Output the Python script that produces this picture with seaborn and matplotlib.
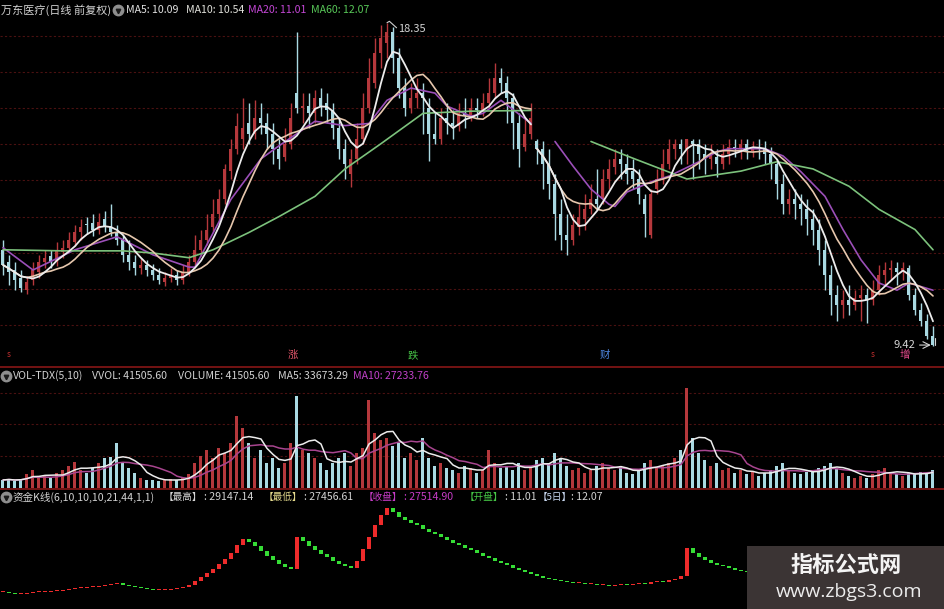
import numpy as np
import pandas as pd
import matplotlib
matplotlib.use("Agg")
import matplotlib.pyplot as plt
import seaborn as sns
from matplotlib.patches import Rectangle
from matplotlib.lines import Line2D

# ---------------- data ----------------
seg_start = 89  # first bar of the second chart section

open_p = [12.08, 11.74, 11.52, 11.30, 10.96, 11.24, 11.46, 11.74, 11.91, 11.74,
          12.02, 12.14, 12.30, 12.58, 12.78, 12.81, 12.64, 12.92, 12.75, 12.58,
          12.36, 11.94, 11.74, 11.58, 11.66, 11.52, 11.38, 11.18, 11.30, 11.38,
          11.24, 11.46, 11.74, 12.08, 12.36, 12.70, 13.06, 13.48, 14.26, 14.88,
          15.16, 15.58, 15.30, 15.72, 15.58, 15.30, 14.88, 14.66, 15.02, 16.42,
          16.00, 16.06, 15.86, 16.28, 16.14, 15.94, 15.44, 14.88, 14.18, 14.60,
          15.16, 16.00, 16.70, 17.54, 17.82, 18.10, 17.40, 16.56, 16.00, 16.28,
          16.42, 16.00, 15.30, 15.16, 15.72, 15.58, 15.50, 15.86, 15.78, 16.00,
          15.94, 16.14, 16.42, 16.84, 16.70, 16.28, 15.58, 14.94, 15.30,
          15.10, 14.88, 14.46, 13.90, 13.06, 12.50, 12.36, 12.70, 12.92, 13.20,
          13.48, 13.48, 14.04, 14.38, 14.60, 14.46, 14.26, 14.04, 13.48, 12.50,
          13.76, 14.04, 14.46, 14.88, 15.02, 14.88, 15.10, 15.02, 14.74, 14.60,
          14.66, 14.46, 14.74, 14.94, 14.88, 15.02, 14.82, 14.94, 14.88, 14.74,
          14.46, 13.90, 13.34, 13.48, 13.34, 13.20, 12.92, 12.64, 12.08, 11.38,
          10.82, 10.54, 10.68, 10.54, 10.74, 10.82, 10.68, 10.96, 11.38, 11.52,
          11.58, 11.46, 11.58, 10.82, 10.40, 10.12, 9.70]
high_p = [12.36, 11.94, 11.74, 11.52, 11.35, 11.74, 11.94, 12.08, 12.08, 12.30,
          12.36, 12.58, 12.78, 12.92, 12.98, 13.06, 13.09, 13.15, 13.34, 12.78,
          12.50, 12.36, 11.94, 11.86, 11.80, 11.69, 11.58, 11.46, 11.58, 11.52,
          11.66, 11.94, 12.50, 12.64, 13.06, 13.48, 13.76, 14.46, 15.16, 15.86,
          16.28, 16.14, 16.22, 16.14, 15.86, 15.58, 15.16, 15.44, 16.14, 18.10,
          16.42, 16.42, 16.50, 16.56, 16.42, 16.14, 15.72, 15.16, 14.88, 15.58,
          16.42, 17.40, 17.96, 18.30, 18.35, 18.24, 17.68, 16.84, 16.70, 16.84,
          16.70, 16.28, 15.86, 16.00, 16.14, 15.94, 16.14, 16.28, 16.28, 16.28,
          16.42, 16.84, 17.26, 17.12, 16.90, 16.42, 15.86, 15.72, 16.14,
          15.16, 15.10, 14.88, 14.18, 13.48, 13.06, 13.06, 13.34, 13.62, 13.90,
          14.32, 14.32, 14.60, 14.88, 14.88, 14.74, 14.60, 14.32, 13.62, 13.76,
          14.32, 14.88, 15.16, 15.16, 15.16, 15.16, 15.16, 15.16, 15.02, 15.02,
          14.88, 15.02, 15.16, 15.16, 15.16, 15.16, 15.10, 15.16, 15.10, 14.94,
          14.60, 14.18, 13.76, 13.76, 13.62, 13.48, 13.20, 12.92, 12.36, 11.66,
          11.10, 10.96, 11.10, 10.96, 11.10, 11.02, 11.24, 11.66, 11.74, 11.80,
          11.74, 11.74, 11.66, 11.02, 10.60, 10.30, 9.98]
low_p = [11.38, 11.10, 10.96, 10.90, 10.85, 11.10, 11.30, 11.58, 11.58, 11.63,
         11.86, 12.02, 12.19, 12.36, 12.53, 12.47, 12.53, 12.58, 12.47, 12.22,
         11.74, 11.52, 11.38, 11.41, 11.35, 11.24, 11.13, 11.07, 11.18, 11.10,
         11.13, 11.35, 11.63, 11.91, 12.22, 12.58, 12.86, 13.34, 14.04, 14.74,
         14.88, 15.02, 15.16, 15.30, 14.88, 14.46, 14.32, 14.54, 14.88, 15.86,
         15.58, 15.44, 15.58, 15.78, 15.58, 15.16, 14.60, 14.04, 13.82, 14.46,
         15.02, 15.86, 16.56, 17.12, 17.40, 16.98, 16.28, 15.78, 15.86, 16.00,
         15.30, 14.54, 15.02, 15.02, 15.30, 15.16, 15.38, 15.44, 15.66, 15.72,
         15.78, 16.00, 16.28, 16.42, 15.58, 14.88, 14.38, 14.82, 15.16,
         14.46, 13.76, 13.48, 12.36, 12.08, 11.94, 12.22, 12.50, 12.64, 13.06,
         13.20, 13.34, 13.76, 14.18, 14.04, 13.90, 13.76, 13.34, 12.44, 12.42,
         13.62, 13.90, 14.32, 14.60, 14.46, 14.46, 14.04, 14.32, 14.18, 14.32,
         14.10, 14.32, 14.46, 14.66, 14.60, 14.60, 14.66, 14.60, 14.46, 14.04,
         13.48, 13.06, 13.06, 12.92, 12.78, 12.50, 12.22, 11.66, 10.96, 10.26,
         10.12, 10.18, 10.26, 10.40, 10.12, 10.06, 10.54, 10.82, 11.10, 11.24,
         11.10, 11.24, 10.70, 10.26, 9.98, 9.60, 9.42]
close_p = [11.66, 11.46, 11.24, 11.02, 11.18, 11.52, 11.74, 11.86, 11.74, 12.08,
           12.14, 12.36, 12.58, 12.70, 12.76, 12.64, 12.86, 12.70, 12.58, 12.36,
           11.94, 11.74, 11.58, 11.66, 11.52, 11.38, 11.24, 11.30, 11.38, 11.24,
           11.46, 11.74, 12.08, 12.36, 12.64, 13.06, 13.48, 14.32, 14.88, 15.50,
           15.44, 15.30, 15.72, 15.58, 15.30, 14.88, 14.60, 15.02, 15.72, 16.00,
           16.06, 15.86, 16.28, 16.06, 15.94, 15.44, 14.88, 14.46, 14.60, 15.16,
           16.00, 16.84, 17.54, 17.96, 18.10, 17.40, 16.56, 16.00, 16.28, 16.42,
           16.28, 15.30, 15.16, 15.72, 15.58, 15.50, 15.86, 15.78, 16.00, 15.94,
           16.14, 16.42, 16.84, 16.70, 16.28, 15.58, 14.88, 15.30, 15.72,
           14.88, 14.46, 13.90, 13.06, 12.50, 12.36, 12.78, 12.98, 13.20, 13.48,
           13.34, 14.04, 14.32, 14.60, 14.46, 14.18, 14.04, 13.62, 13.06, 13.62,
           14.04, 14.46, 14.88, 15.02, 14.88, 15.16, 15.02, 14.74, 14.60, 14.74,
           14.46, 14.74, 14.94, 14.88, 15.02, 14.82, 14.94, 14.88, 14.74, 14.46,
           13.90, 13.34, 13.48, 13.34, 13.20, 12.92, 12.64, 12.08, 11.38, 10.82,
           10.54, 10.68, 10.54, 10.74, 10.82, 10.68, 10.96, 11.38, 11.52, 11.58,
           11.46, 11.58, 10.82, 10.40, 10.12, 9.70, 9.45]

# MA20 / MA60 lines (bar index, price)
ma20_left_bars = [0, 5, 12, 19, 25, 31, 32, 38, 43, 46, 52, 57, 61, 64, 68, 72, 74, 78, 80, 83, 88]
ma20_left_vals = [12.14, 11.52, 12.08, 12.44, 11.94, 11.60, 11.60, 13.48, 14.60, 14.96, 15.64,
                  15.52, 15.58, 16.22, 16.56, 16.42, 16.06, 15.78, 15.86, 16.22, 15.58]
ma20_right_bars = [92, 95, 98, 101, 102, 104, 108, 111, 116, 119, 121, 127, 130, 133, 137,
                   140, 143, 146, 149, 151, 155]
ma20_right_vals = [15.08, 14.40, 13.76, 13.34, 13.28, 13.68, 13.96, 14.12, 14.52, 14.80, 14.88,
                   14.88, 14.68, 14.24, 13.56, 12.64, 11.80, 11.16, 10.96, 11.16, 10.96]
ma60_left_bars = [0, 10, 20, 25, 31, 35, 41, 46, 52, 57, 63, 67, 70, 78, 88]
ma60_left_vals = [12.08, 12.05, 12.05, 11.99, 11.86, 12.08, 12.56, 13.00, 13.56, 14.32, 15.02,
                  15.50, 15.86, 15.92, 15.94]
ma60_right_bars = [98, 104, 114, 123, 129, 135, 141, 146, 152, 155]
ma60_right_vals = [15.08, 14.68, 14.04, 14.26, 14.52, 14.32, 13.84, 13.20, 12.64, 12.08]

volume = [8, 9, 7, 9, 14, 18, 10, 12, 10, 15,
          18, 22, 26, 18, 15, 20, 25, 30, 31, 45,
          25, 20, 15, 10, 8, 8, 7, 8, 9, 8,
          10, 14, 25, 32, 38, 30, 40, 35, 45, 72,
          60, 45, 30, 38, 25, 30, 20, 25, 45, 92,
          38, 35, 30, 25, 18, 25, 30, 35, 22, 35,
          40, 88, 55, 48, 50, 42, 45, 30, 35, 28,
          50, 30, 22, 25, 20, 18, 15, 22, 20, 15,
          18, 38, 25, 20, 22, 18, 25, 18, 20,
          28, 30, 25, 35, 30, 22, 18, 20, 15, 18,
          22, 25, 20, 18, 22, 15, 14, 18, 25, 28,
          20, 22, 25, 30, 38, 100, 50, 35, 28, 22,
          25, 18, 20, 15, 18, 14, 16, 12, 15, 18,
          22, 25, 18, 15, 14, 16, 18, 20, 22, 25,
          20, 15, 12, 10, 12, 10, 14, 18, 20, 15,
          14, 12, 15, 14, 16, 15, 18]

fund_k = [17, 16, 15, 15, 16, 17, 17, 17, 18, 18,
          19, 20, 21, 21, 22, 22, 23, 24, 25, 26,
          24, 23, 22, 21, 20, 19, 19, 19, 20, 21,
          22, 24, 28, 32, 36, 40, 45, 50, 56, 64,
          70, 67, 63, 58, 53, 49, 45, 42, 40, 72,
          68, 63, 59, 55, 52, 48, 45, 43, 41, 48,
          60, 72, 84, 94, 101, 97, 92, 89, 86, 84,
          80, 77, 75, 72, 69, 66, 64, 61, 59, 56,
          53, 51, 48, 46, 44, 41, 39, 37, 35, 33,
          31, 30, 29, 28, 27, 26, 26, 25, 25, 24,
          24, 23, 24, 25, 24, 25, 26, 25, 27, 28,
          27, 29, 30, 33, 61, 56, 52, 49, 46, 44,
          43, 41, 39, 38, 37]

main_title = "万东医疗(日线 前复权)"
main_ma_labels = ["MA5: 10.09", "MA10: 10.54", "MA20: 11.01", "MA60: 12.07"]
vol_labels = ["VOL-TDX(5,10)", "VVOL: 41505.60", "VOLUME: 41505.60", "MA5: 33673.29", "MA10: 27233.76"]
fund_title = "资金K线(6,10,10,10,21,44,1,1)"
fund_labels = [("【最高】", ": 29147.14"), ("【最低】", ": 27456.61"), ("【收盘】", ": 27514.90"),
               ("【开盘】", ": 11.01"), ("【5日】", ": 12.07")]
event_marks = [(1, "s"), (48.3, "涨"), (68.3, "跌"), (100.3, "财"), (145, "s"), (150.3, "增")]

# ---------------- style ----------------
sns.set_theme(style="dark", rc={"axes.facecolor": "black", "figure.facecolor": "black"})
plt.rcParams["font.family"] = ["Noto Sans CJK SC", "DejaVu Sans"]
plt.rcParams["axes.unicode_minus"] = False

RED = "#b5383c"
CYAN = "#a9d9e2"
GRID = "#4a1111"

W, H = 945, 609
fig = plt.figure(figsize=(9.45, 6.09), dpi=100, facecolor="black")


def pane(top, bottom):
    a = fig.add_axes([0, 1 - bottom / H, 1, (bottom - top) / H])
    a.set_facecolor("black")
    a.set_xlim(-0.5, 157.0)
    a.axis("off")
    return a


def ftext(x, y, s, **kw):
    kw.setdefault("fontsize", 8)
    kw.setdefault("va", "center")
    kw.setdefault("ha", "left")
    return fig.text(x / W, 1 - y / H, s, **kw)


ax = pane(0, 366)
axv = pane(368, 488)
axf = pane(489, 609)

o = np.array(open_p); h = np.array(high_p); l = np.array(low_p); c = np.array(close_p)
n = len(c)
idx = np.arange(n)
up = c >= o
cols = np.where(up, RED, CYAN)

# ---- main pane ----
ax.set_ylim(8.86, 19.0)
for g in range(10, 19):
    ax.axhline(g, color=GRID, lw=0.8, ls=(0, (2, 2)), zorder=0)
ax.vlines(idx, l, h, colors=cols, lw=1.0, zorder=2)
ax.bar(idx, np.maximum(np.abs(c - o), 0.03), bottom=np.minimum(o, c), width=0.5,
       color=cols, lw=0, zorder=2)

cs = pd.Series(c)
for a0, a1 in [(0, seg_start), (seg_start, n)]:
    seg = cs.iloc[a0:a1]
    m5 = seg.rolling(5, min_periods=1).mean()
    m10 = seg.rolling(10, min_periods=1).mean()
    sns.lineplot(x=seg.index, y=m10.values, ax=ax, color="#e6c7ad", lw=1.2, legend=False, zorder=4)
    sns.lineplot(x=seg.index, y=m5.values, ax=ax, color="#ececec", lw=1.3, legend=False, zorder=5)
sns.lineplot(x=ma20_left_bars, y=ma20_left_vals, ax=ax, color="#9b4fb8", lw=1.2, legend=False, zorder=3)
sns.lineplot(x=ma20_right_bars, y=ma20_right_vals, ax=ax, color="#9b4fb8", lw=1.2, legend=False, zorder=3)
sns.lineplot(x=ma60_left_bars, y=ma60_left_vals, ax=ax, color="#7cc27c", lw=1.2, legend=False, zorder=3)
sns.lineplot(x=ma60_right_bars, y=ma60_right_vals, ax=ax, color="#7cc27c", lw=1.2, legend=False, zorder=3)
ax.set_xlim(-0.5, 157.0)
ax.set_ylim(8.86, 19.0)

imax = int(np.argmax(h)); imin = int(np.argmin(l))
ax.plot([imax, imax + 0.4, imax + 1.6], [h[imax] + 0.02, h[imax] + 0.06, h[imax] - 0.12],
        color="#cfcfcf", lw=0.8, zorder=6)
ax.text(imax + 1.8, h[imax] - 0.16, f"{h[imax]:.2f}", color="#d4d4d4", fontsize=8,
        va="center", ha="left", zorder=6)
ax.text(imin - 2.9, l[imin] + 0.02, f"{l[imin]:.2f}", color="#d4d4d4", fontsize=8,
        va="center", ha="right", zorder=6)
ax.annotate("", xy=(imin + 0.1, l[imin] + 0.02), xytext=(imin - 2.7, l[imin] + 0.02),
            arrowprops=dict(arrowstyle="->", color="#d4d4d4", lw=0.8), zorder=6)
ax.plot([imin + 0.3, imin + 0.3], [l[imin] + 0.02, l[imin] + 0.22], color="#d4d4d4", lw=0.8, zorder=6)

mark_cols = {"s": "#c23030", "涨": "#e2566a", "跌": "#45c045", "财": "#4d86e0", "增": "#e04a8a"}
for xi, s in event_marks:
    ax.text(xi, 9.17, s, color=mark_cols[s], fontsize=7.5 if s != "s" else 6,
            ha="center", va="center", zorder=6)

# ---- volume pane ----
vol = np.array(volume, dtype=float)
axv.set_ylim(0, 120)
for g in (32, 64, 95):
    axv.axhline(g, color=GRID, lw=0.8, ls=(0, (2, 2)), zorder=0)
axv.bar(idx, vol, width=0.5, color=cols, lw=0, zorder=2)
vs = pd.Series(vol)
sns.lineplot(x=idx, y=vs.rolling(10, min_periods=1).mean().values, ax=axv, color="#a8458f",
             lw=1.1, legend=False, zorder=3)
sns.lineplot(x=idx, y=vs.rolling(5, min_periods=1).mean().values, ax=axv, color="#ececec",
             lw=1.1, legend=False, zorder=4)
axv.set_xlim(-0.5, 157.0)
axv.set_ylim(0, 120)

# ---- fund K pane ----
fk = np.array(fund_k, dtype=float)
prev = np.concatenate([[fk[0]], fk[:-1]])
fcols = np.where(fk >= prev, "#ee2b2b", "#36dd36")
fbot = np.minimum(fk, prev)
fh = np.maximum(np.abs(fk - prev), 1.4)
fi = np.arange(len(fk))
axf.bar(fi, fh, bottom=fbot - 0.3, width=0.55, color=fcols, lw=0, zorder=2)
axf.set_xlim(-0.5, 157.0)
axf.set_ylim(0, 120)

# ---- separators ----
for yy in (367, 488.5):
    fig.add_artist(Line2D([0, 1], [1 - yy / H, 1 - yy / H], transform=fig.transFigure,
                          color="#7d1414", lw=1.3, zorder=5))

# ---- headers ----
def icon(x, y):
    fig.add_artist(Line2D([x / W], [1 - y / H], marker="o", markersize=7.5, color="#8e8e8e",
                          transform=fig.transFigure, zorder=8))
    fig.add_artist(Line2D([x / W], [1 - (y + 0.5) / H], marker="v", markersize=3.2, color="#1a1a1a",
                          transform=fig.transFigure, zorder=9))

ftext(1, 10, main_title, color="#d2d2d2")
icon(118, 10)
for xp, s, colr in zip([126, 186, 248, 311], main_ma_labels, ["#e2e2e2", "#e2e2dc", "#c447d6", "#58c858"]):
    ftext(xp, 10, s, color=colr, fontsize=7.6)

icon(6, 376)
for xp, s, colr in zip([13, 92, 178, 278, 353], vol_labels,
                       ["#d2d2d2", "#d2d2d2", "#d2d2d2", "#d2d2d2", "#c040c8"]):
    ftext(xp, 376, s, color=colr, fontsize=7.6)

icon(6, 497)
ftext(13, 497, fund_title, color="#d2d2d2", fontsize=7.6)
fxs = [164, 264, 364, 465, 538]
fwid = [40, 40, 40, 40, 33]
fcol_lab = ["#d8d8d8", "#e6dc8e", "#c63cc6", "#46c846", "#c8d8f0"]
fcol_val = ["#d2d2d2", "#d2d2d2", "#c63cc6", "#d2d2d2", "#d2d2d2"]
for xp, wd, (lab, val), cl_, cv_ in zip(fxs, fwid, fund_labels, fcol_lab, fcol_val):
    ftext(xp, 497, lab, color=cl_, fontsize=6.9)
    ftext(xp + wd, 497, val, color=cv_, fontsize=7.6)

# ---- watermark ----
fig.add_artist(Rectangle((747 / W, 0), (W - 747) / W, (609 - 546) / H, transform=fig.transFigure,
                         facecolor="#3b3434", edgecolor="none", zorder=10))
ftext(846, 565, "指标公式网", color="#f4f4f4", fontsize=16, fontweight="bold", ha="center", zorder=11)
ftext(849, 592, "www.zbgs3.com", color="#ececec", fontsize=14, ha="center", zorder=11,
      family=["Open Sans", "DejaVu Sans"])

fig.savefig("out.png", dpi=100, facecolor="black")
